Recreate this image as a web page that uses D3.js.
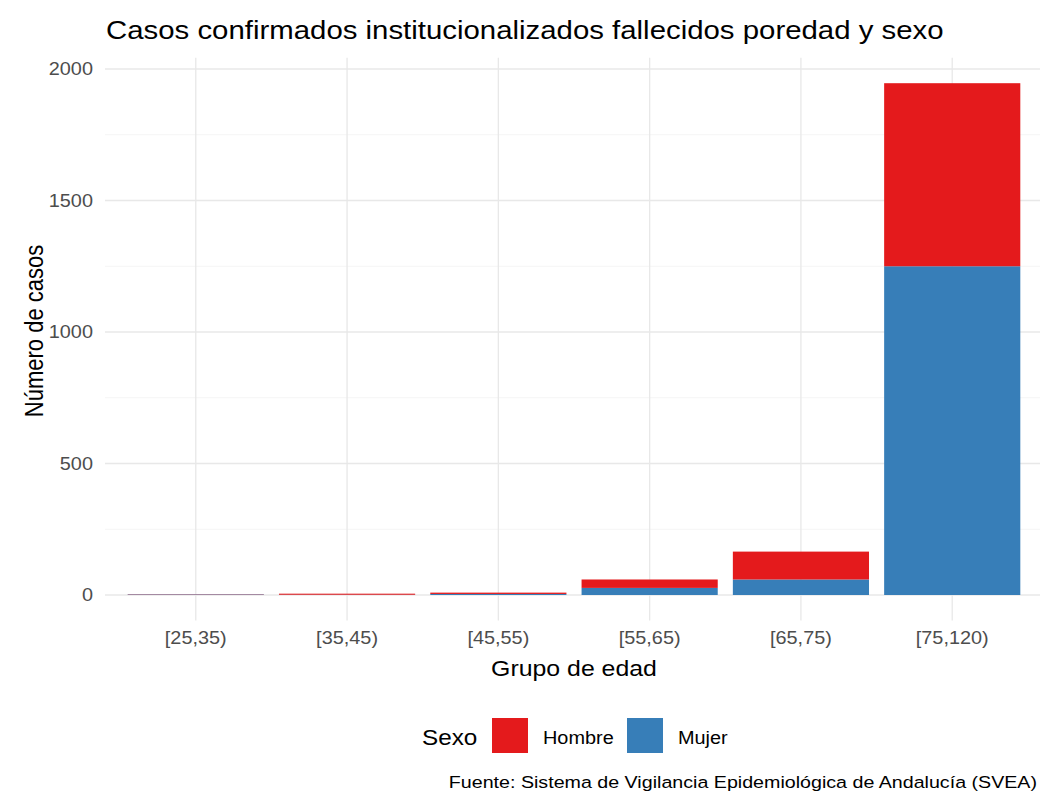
<!DOCTYPE html>
<html lang="es">
<head>
    <meta charset="UTF-8">
    <title>Casos institucionalizados fallecidos</title>
    <style>
        body {
            margin: 0;
            padding: 0;
            background-color: #fff;
        }
        svg text {
            font-family: 'Liberation Sans', Arial, sans-serif;
        }
    </style>
    <script src="https://d3js.org/d3.v7.min.js"></script>
</head>
<body>
<div id="chart"></div>
<script>
    // data
    const grupos = ["[25,35)", "[35,45)", "[45,55)", "[55,65)", "[65,75)", "[75,120)"];
    const hombre = [1, 4, 5, 32, 106, 696];
    const mujer = [2, 1, 4, 27, 59, 1250];
    const sexos = ["Hombre", "Mujer"];
    const colores = ["#E41A1C", "#377EB8"];
    const yTicks = [0, 500, 1000, 1500, 2000];
    const yMinor = [250, 750, 1250, 1750];

    const titulo = "Casos confirmados institucionalizados fallecidos poredad y sexo";
    const fuente = "Fuente: Sistema de Vigilancia Epidemiológica de Andalucía (SVEA)";

    const width = 1040, height = 803;
    const SX = 1.13; // the text in the original is a bit wider than tall
    const panel = {left: 105, right: 1043};

    const rows = grupos.map((g, i) => ({grupo: g, Hombre: hombre[i], Mujer: mujer[i]}));

    const svg = d3.select("#chart").append("svg")
        .attr("width", width)
        .attr("height", height)
        .style("display", "block");

    svg.append("rect").attr("width", width).attr("height", height).attr("fill", "#fff");

    const x = d3.scaleBand()
        .domain(grupos)
        .range([panel.left, panel.right])
        .paddingInner(0.1)
        .paddingOuter(0.15);

    const y = d3.scaleLinear()
        .domain([0, 2000])
        .range([595, 69]);

    const panelTop = y(2043), panelBottom = y(-97);
    const color = d3.scaleOrdinal().domain(sexos).range(colores);

    // grid
    const grid = svg.append("g");
    grid.selectAll(".minor").data(yMinor).enter().append("line")
        .attr("x1", panel.left).attr("x2", panel.right)
        .attr("y1", d => y(d)).attr("y2", d => y(d))
        .attr("stroke", "#f2f2f2").attr("stroke-width", 0.8);
    grid.selectAll(".major").data(yTicks).enter().append("line")
        .attr("x1", panel.left).attr("x2", panel.right)
        .attr("y1", d => y(d)).attr("y2", d => y(d))
        .attr("stroke", "#e8e8e8").attr("stroke-width", 1.3);
    grid.selectAll(".vert").data(grupos).enter().append("line")
        .attr("x1", d => x(d) + x.bandwidth() / 2).attr("x2", d => x(d) + x.bandwidth() / 2)
        .attr("y1", panelTop).attr("y2", panelBottom)
        .attr("stroke", "#e8e8e8").attr("stroke-width", 1.3);

    // stacked bars, Mujer at the bottom
    const series = d3.stack().keys(["Mujer", "Hombre"])(rows);

    svg.append("g").selectAll("g")
        .data(series)
        .enter().append("g")
        .attr("fill", d => color(d.key))
        .selectAll("rect")
        .data(d => d)
        .enter().append("rect")
        .attr("x", d => x(d.data.grupo))
        .attr("width", x.bandwidth())
        .attr("y", d => y(d[1]))
        .attr("height", d => y(d[0]) - y(d[1]));

    // axes (no lines, only labels)
    const yAxis = svg.append("g")
        .attr("transform", "translate(" + (panel.left - 3) + ",0)")
        .call(d3.axisLeft(y).tickValues(yTicks).tickFormat(d3.format("d")).tickSize(0).tickPadding(8));
    const xAxis = svg.append("g")
        .attr("transform", "translate(0," + 630 + ")")
        .call(d3.axisBottom(x).tickSize(0).tickPadding(0));

    [yAxis, xAxis].forEach(a => {
        a.select(".domain").remove();
        a.selectAll("text")
            .attr("fill", "#4d4d4d")
            .style("font-size", "17.6px");
    });
    yAxis.selectAll("text").attr("transform", "scale(" + SX + ",1)");
    xAxis.selectAll("text").attr("transform", "scale(" + SX + ",1)").attr("dy", "0.8em");

    function label(txt, px, py, size, anchor, extra) {
        return svg.append("text")
            .attr("transform", "translate(" + px + "," + py + ") scale(" + SX + ",1)" + (extra || ""))
            .attr("text-anchor", anchor)
            .style("font-size", size + "px")
            .attr("fill", "#000")
            .text(txt);
    }

    label(titulo, 106, 38.5, 26, "start");
    label("Grupo de edad", (panel.left + panel.right) / 2, 676, 22, "middle");
    label("Número de casos", 43, 331, 22, "middle", " rotate(-90)");

    // legend
    const legend = svg.append("g");
    label("Sexo", 422, 745, 21.5, "start");
    const keyStep = 135;
    sexos.forEach((s, i) => {
        legend.append("rect")
            .attr("x", 492 + i * keyStep)
            .attr("y", 718)
            .attr("width", 36)
            .attr("height", 35)
            .attr("fill", color(s));
        label(s, 543 + i * keyStep, 744, 17.6, "start");
    });

    label(fuente, 1037, 788, 17.4, "end");
</script>
</body>
</html>
